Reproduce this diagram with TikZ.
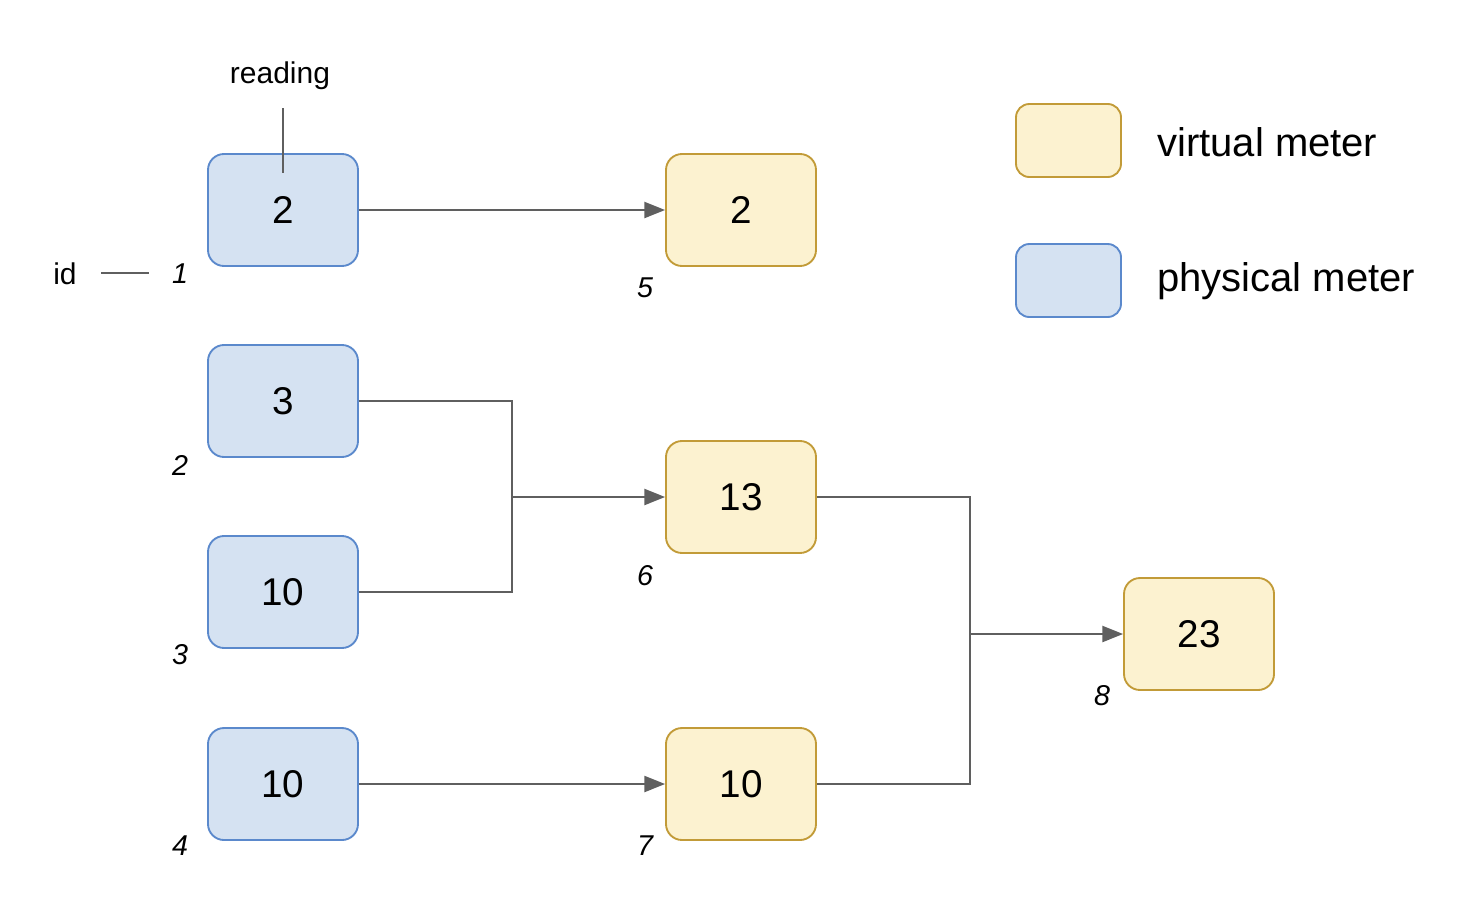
\documentclass[tikz,border=0pt]{standalone}
\usepackage{fontspec}
\setmainfont{Liberation Sans}
\usetikzlibrary{arrows.meta}
\definecolor{pfill}{HTML}{D5E2F2}
\definecolor{pdraw}{HTML}{5B89CC}
\definecolor{vfill}{HTML}{FCF2D0}
\definecolor{vdraw}{HTML}{C29B38}
\definecolor{conn}{HTML}{5F5F5F}
\begin{document}
\begin{tikzpicture}[x=0.75pt,y=-0.75pt,
  meterbox/.style={draw,line width=1.4pt,rounded corners=12pt,minimum width=112.5pt,minimum height=84pt,inner sep=0pt,font=\fontsize{29}{31}\selectfont},
  phys/.style={meterbox,fill=pfill,draw=pdraw},
  virt/.style={meterbox,fill=vfill,draw=vdraw},
  legbox/.style={draw,line width=1.4pt,rounded corners=10pt,minimum width=78.75pt,minimum height=54.75pt,inner sep=0pt},
  idlabel/.style={font=\fontsize{21.5}{24}\selectfont\itshape,inner sep=0pt},
  plain/.style={font=\fontsize{22.5}{25}\selectfont,inner sep=0pt},
  legtext/.style={font=\fontsize{30}{34}\selectfont,inner sep=0pt,anchor=west},
  conn/.style={draw=conn,line width=1.6pt},
  arr/.style={conn,-{Triangle[length=15.5pt,width=12pt]}}]
\useasboundingbox (0,0) rectangle (1470,918);
% physical meters
\node[phys] (p1) at (283,210) {2};
\node[phys] (p2) at (283,401) {3};
\node[phys] (p3) at (283,592) {10};
\node[phys] (p4) at (283,784) {10};
% virtual meters
\node[virt] (v5) at (741,210) {2};
\node[virt] (v6) at (741,497) {13};
\node[virt] (v7) at (741,784) {10};
\node[virt] (v8) at (1199,634) {23};
% id labels
\node[idlabel] (l1) at (180,274) {1};
\node[idlabel] (l2) at (180,465) {2};
\node[idlabel] (l3) at (180,655) {3};
\node[idlabel] (l4) at (180,846) {4};
\node[idlabel] (l5) at (645,288) {5};
\node[idlabel] (l6) at (645,576) {6};
\node[idlabel] (l7) at (645,846) {7};
\node[idlabel] (l8) at (1102,696) {8};
% annotations
\node[plain] (reading) at (280,76) {reading};
\coordinate (rtop) at (283,108);
\coordinate (rbot) at (283,173);
\draw[conn,line width=1.2pt] (rtop) -- (rbot);
\node[plain] (id) at (65,274) {id};
\coordinate (ida) at (101,273);
\coordinate (idb) at (149,273);
\draw[conn,line width=1.2pt] (ida) -- (idb);
% legend
\node[legbox,fill=vfill,draw=vdraw] (lv) at (1068.5,140.5) {};
\node[legbox,fill=pfill,draw=pdraw] (lp) at (1068.5,280.5) {};
\node[legtext] (tv) at (1157,142) {virtual meter};
\node[legtext] (tp) at (1157,281) {physical meter};
% connectors
\coordinate (j1) at (512,497);
\coordinate (j2) at (970,634);
\draw[arr] (p1.east) -- (v5.west);
\draw[conn] (p2.east) -| (j1);
\draw[conn] (p3.east) -| (j1);
\draw[arr] (j1) -- (v6.west);
\draw[conn] (v6.east) -| (j2);
\draw[conn] (v7.east) -| (j2);
\draw[arr] (j2) -- (v8.west);
\draw[arr] (p4.east) -- (v7.west);
\end{tikzpicture}
\end{document}
